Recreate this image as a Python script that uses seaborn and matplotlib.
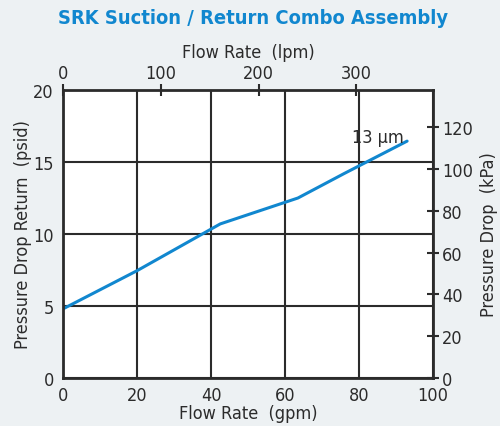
import numpy as np
import pandas as pd
import matplotlib
matplotlib.use("Agg")
import matplotlib.pyplot as plt
from matplotlib import font_manager
import seaborn as sns

# data
flow_gpm = [0, 20, 42.5, 63.5, 76, 93]
dp_psid = [4.8, 7.45, 10.7, 12.5, 14.2, 16.45]
curve_label = "13 µm"

x_ticks = [0, 20, 40, 60, 80, 100]
y_ticks = [0, 5, 10, 15, 20]
lpm_ticks = [0, 100, 200, 300]
kpa_ticks = [0, 20, 40, 60, 80, 100, 120]

GPM_TO_LPM = 3.785
PSI_TO_KPA = 6.895

sns.set_style("white")

# pick a narrow face if one is installed
fonts = font_manager.fontManager.ttflist
narrow = [f for f in fonts if f.stretch in ("condensed", "semi-condensed", "extra-condensed")
          or "Narrow" in f.name or "Condensed" in f.name]
if narrow:
    plt.rcParams['font.family'] = [narrow[0].name, 'DejaVu Sans']
    plt.rcParams['font.stretch'] = narrow[0].stretch
else:
    plt.rcParams['font.family'] = ['Liberation Sans', 'DejaVu Sans']

BG = "#edf1f3"
INK = "#2b2b2b"
BLUE = "#1187cf"
FS = 13

df = pd.DataFrame({"gpm": flow_gpm, "psid": dp_psid})

fig = plt.figure(figsize=(5.0, 4.27), dpi=100, facecolor=BG)
ax = fig.add_axes([0.126, 0.1124, 0.74, 0.6745])
ax.set_facecolor("white")

sns.lineplot(data=df, x="gpm", y="psid", color=BLUE, linewidth=2.2, ax=ax)
ax.text(92, 16.4, curve_label, ha="right", va="baseline", fontsize=FS, color=INK)

ax.set_xlim(0, 100)
ax.set_ylim(0, 20)
ax.set_xticks(x_ticks)
ax.set_yticks(y_ticks)
ax.set_xticks(np.arange(0, 101, 4), minor=True)
ax.grid(True, which="major", color=INK, linewidth=1.5)
for s in ax.spines.values():
    s.set_color(INK)
    s.set_linewidth(2)

ax.tick_params(axis="x", which="major", direction="inout", length=8, width=1.5,
               colors=INK, labelsize=FS, pad=2)
ax.tick_params(axis="x", which="minor", direction="in", length=4, width=1.2, colors=INK)
ax.tick_params(axis="y", which="major", direction="inout", length=9, width=1.5,
               colors=INK, labelsize=FS, pad=2)
ax.set_xlabel("Flow Rate  (gpm)", fontsize=FS, color=INK, labelpad=0)
ax.set_ylabel("Pressure Drop Return  (psid)", fontsize=FS, color=INK, labelpad=1)

top = ax.secondary_xaxis("top", functions=(lambda v: v * GPM_TO_LPM, lambda v: v / GPM_TO_LPM))
top.set_xticks(lpm_ticks)
top.tick_params(direction="inout", length=8, width=1.5, colors=INK, labelsize=FS, pad=2)
top.set_xlabel("Flow Rate  (lpm)", fontsize=FS, color=INK, labelpad=5)
top.spines["top"].set_visible(False)

right = ax.secondary_yaxis("right", functions=(lambda v: v * PSI_TO_KPA, lambda v: v / PSI_TO_KPA))
right.set_yticks(kpa_ticks)
right.tick_params(direction="inout", length=9, width=1.5, colors=INK, labelsize=FS, pad=2)
right.set_ylabel("Pressure Drop  (kPa)", fontsize=FS, color=INK, labelpad=5)
right.spines["right"].set_visible(False)

title = fig.text(0.506, 0.957, "SRK Suction / Return Combo Assembly", ha="center", va="center",
                 fontsize=20, fontweight="bold", color=BLUE)
# fit the title to the width it takes in the reference (~392 px)
renderer = fig.canvas.get_renderer()
w = title.get_window_extent(renderer).width
title.set_fontsize(min(23, 20 * 392 / w))

fig.savefig("out.png", dpi=100, facecolor=BG)
